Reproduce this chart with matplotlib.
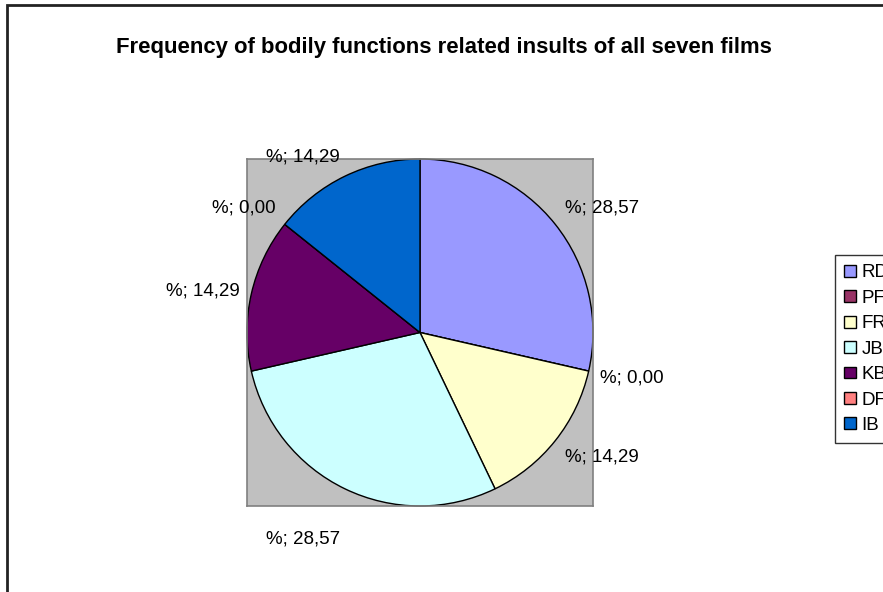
import numpy as np
import matplotlib.pyplot as plt
from matplotlib.patches import Rectangle

plt.rcParams['font.family'] = ['Liberation Sans', 'DejaVu Sans']

films = ["RD", "PF", "FR", "JB", "KB", "DF", "IB"]
insults = [2, 0, 1, 2, 1, 0, 1]
colors = ["#9999FF", "#993366", "#FFFFCC", "#CCFFFF", "#660066", "#FF8080", "#0066CC"]

W, H = 883, 592
fig = plt.figure(figsize=(W / 100, H / 100), dpi=100)

# chart area frame, runs off the right and bottom edges
fig.patches.append(Rectangle((7 / W, -0.1), 1.2, 1 - 5 / H + 0.1, transform=fig.transFigure,
                             fill=False, edgecolor="#222222", linewidth=2))

fig.text(444 / W, 1 - 47 / H, "Frequency of bodily functions related insults of all seven films",
         ha="center", va="center", fontsize=15.9, fontweight="bold")

ax = fig.add_axes([247 / W, 1 - 506 / H, 346 / W, 347 / H])

wedges, _ = ax.pie(insults, colors=colors, startangle=90, counterclock=False, radius=1,
                   wedgeprops=dict(edgecolor="black", linewidth=1))
ax.set_frame_on(True)
ax.set_facecolor("#C0C0C0")
for s in ax.spines.values():
    s.set_color("#808080")
    s.set_linewidth(1.2)
ax.set_xlim(-1, 1)
ax.set_ylim(-1, 1)
ax.set_aspect("auto")
ax.set_xticks([])
ax.set_yticks([])

# percentage labels sit just outside each slice, anchored by the corner nearest the pie
total = sum(insults)
nudge = {"JB": -22, "PF": -3}
for w, film, v in zip(wedges, films, insults):
    ang = np.deg2rad((w.theta1 + w.theta2) / 2)
    c, s = np.cos(ang), np.sin(ang)
    ha = "left" if c > 0.1 else ("right" if c < -0.1 else "center")
    va = "bottom" if s > 0.3 else ("top" if s < -0.3 else "center")
    txt = ("%; " + f"{v / total * 100:.2f}").replace(".", ",")
    ax.annotate(txt, xy=(1.07 * c, 1.07 * s), xytext=(0, nudge.get(film, 0)),
                textcoords="offset points", ha=ha, va=va, fontsize=13.5,
                annotation_clip=False)

leg = fig.legend(wedges, films, loc="upper left", bbox_to_anchor=(835 / W, 1 - 255 / H),
                 borderaxespad=0, frameon=True, fancybox=False, fontsize=13.5,
                 handlelength=0.6, handleheight=0.6, handletextpad=0.3,
                 labelspacing=0.45, borderpad=0.5)
leg.get_frame().set_edgecolor("black")
leg.get_frame().set_linewidth(1)

fig.savefig("out.png", dpi=100)
